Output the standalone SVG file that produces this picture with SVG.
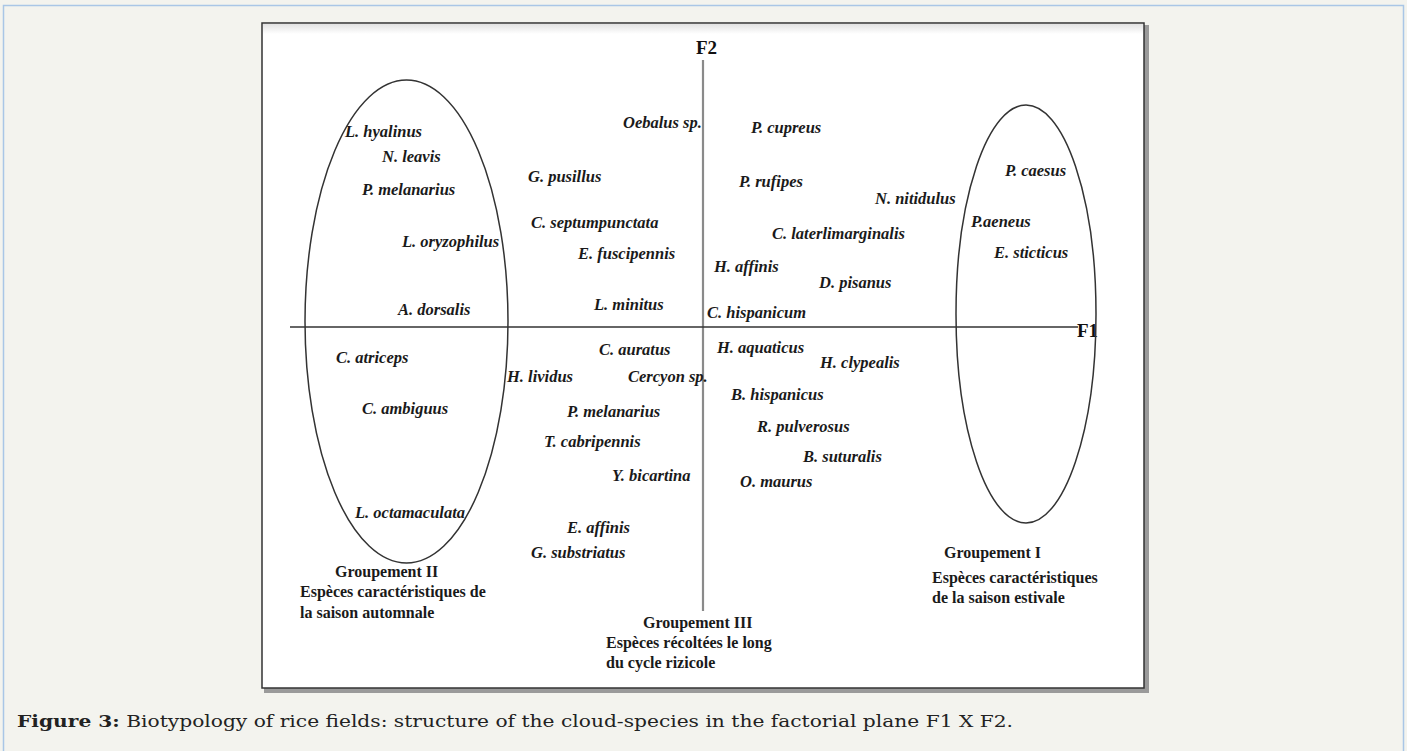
<svg xmlns="http://www.w3.org/2000/svg" width="1407" height="751" viewBox="0 0 1407 751">
<style>
.sp{font-family:"Liberation Serif",serif;font-style:italic;font-weight:bold;font-size:16.5px;fill:#1a1a1a}
.gr{font-family:"Liberation Serif",serif;font-weight:bold;font-size:16px;fill:#1a1a1a}
.ax{font-family:"Liberation Serif",serif;font-weight:bold;font-size:19px;fill:#111}
.cap{font-family:"DejaVu Serif",serif;font-size:17px;fill:#222}
.ell{fill:none;stroke:#333;stroke-width:1.5}
</style>
<defs>
<linearGradient id="topband" x1="0" y1="0" x2="0" y2="1">
<stop offset="0" stop-color="#e2e2e2"/>
<stop offset="1" stop-color="#ffffff"/>
</linearGradient>
</defs>
<rect x="0" y="0" width="1407" height="751" fill="#f3f3ee"/>
<path d="M3.5 751 V5.5 H1403.5 V751" fill="none" stroke="#a9c6e6" stroke-width="1.5"/>
<g id="frame">
<rect x="264" y="25" width="885" height="668" fill="#9a9a9a"/>
<rect x="262" y="23" width="882" height="665" fill="#ffffff" stroke="#333" stroke-width="1.5"/>
<rect x="263" y="24" width="880" height="10" fill="url(#topband)"/>
</g>
<g id="axes">
<line x1="703" y1="60" x2="703" y2="611" stroke="#8a8a8a" stroke-width="2.2"/>
<line x1="290" y1="327" x2="1078" y2="327" stroke="#333" stroke-width="1.5"/>
<text class="ax" x="696" y="54">F2</text>
<text class="ax" x="1077" y="337">F1</text>
</g>
<g id="groupement-II">
<ellipse class="ell" cx="406.5" cy="321.5" rx="101.5" ry="241.5"/>
<text class="sp" x="345" y="137">L. hyalinus</text>
<text class="sp" x="382" y="162">N. leavis</text>
<text class="sp" x="362" y="195">P. melanarius</text>
<text class="sp" x="402" y="247">L. oryzophilus</text>
<text class="sp" x="398" y="315">A. dorsalis</text>
<text class="sp" x="336" y="363">C. atriceps</text>
<text class="sp" x="362" y="414">C. ambiguus</text>
<text class="sp" x="355" y="518">L. octamaculata</text>
<text class="gr" x="335" y="577">Groupement II</text>
<text class="gr" x="300" y="597">Espèces caractéristiques de</text>
<text class="gr" x="300" y="618">la saison automnale</text>
</g>
<g id="groupement-I">
<ellipse class="ell" cx="1026" cy="314" rx="70" ry="209"/>
<text class="sp" x="1005" y="176">P. caesus</text>
<text class="sp" x="971" y="227">P.aeneus</text>
<text class="sp" x="994" y="258">E. sticticus</text>
<text class="gr" x="944" y="558">Groupement I</text>
<text class="gr" x="932" y="583">Espèces caractéristiques</text>
<text class="gr" x="932" y="603">de la saison estivale</text>
</g>
<g id="groupement-III">
<text class="sp" x="623" y="128">Oebalus sp.</text>
<text class="sp" x="751" y="133">P. cupreus</text>
<text class="sp" x="528" y="182">G. pusillus</text>
<text class="sp" x="739" y="187">P. rufipes</text>
<text class="sp" x="875" y="204">N. nitidulus</text>
<text class="sp" x="531" y="228">C. septumpunctata</text>
<text class="sp" x="772" y="239">C. laterlimarginalis</text>
<text class="sp" x="578" y="259">E. fuscipennis</text>
<text class="sp" x="714" y="272">H. affinis</text>
<text class="sp" x="819" y="288">D. pisanus</text>
<text class="sp" x="594" y="310">L. minitus</text>
<text class="sp" x="707" y="318">C. hispanicum</text>
<text class="sp" x="599" y="355">C. auratus</text>
<text class="sp" x="717" y="353">H. aquaticus</text>
<text class="sp" x="820" y="368">H. clypealis</text>
<text class="sp" x="507" y="382">H. lividus</text>
<text class="sp" x="628" y="382">Cercyon sp.</text>
<text class="sp" x="731" y="400">B. hispanicus</text>
<text class="sp" x="567" y="417">P. melanarius</text>
<text class="sp" x="757" y="432">R. pulverosus</text>
<text class="sp" x="544" y="447">T. cabripennis</text>
<text class="sp" x="803" y="462">B. suturalis</text>
<text class="sp" x="612" y="481">Y. bicartina</text>
<text class="sp" x="740" y="487">O. maurus</text>
<text class="sp" x="567" y="533">E. affinis</text>
<text class="sp" x="531" y="558">G. substriatus</text>
<text class="gr" x="643" y="628">Groupement III</text>
<text class="gr" x="606" y="648">Espèces récoltées le long</text>
<text class="gr" x="606" y="668">du cycle rizicole</text>
</g>
<g id="caption">
<text class="cap" x="17" y="727" textLength="996" lengthAdjust="spacingAndGlyphs"><tspan font-weight="bold">Figure 3:</tspan> Biotypology of rice fields: structure of the cloud-species in the factorial plane F1 X F2.</text>
</g>
</svg>
